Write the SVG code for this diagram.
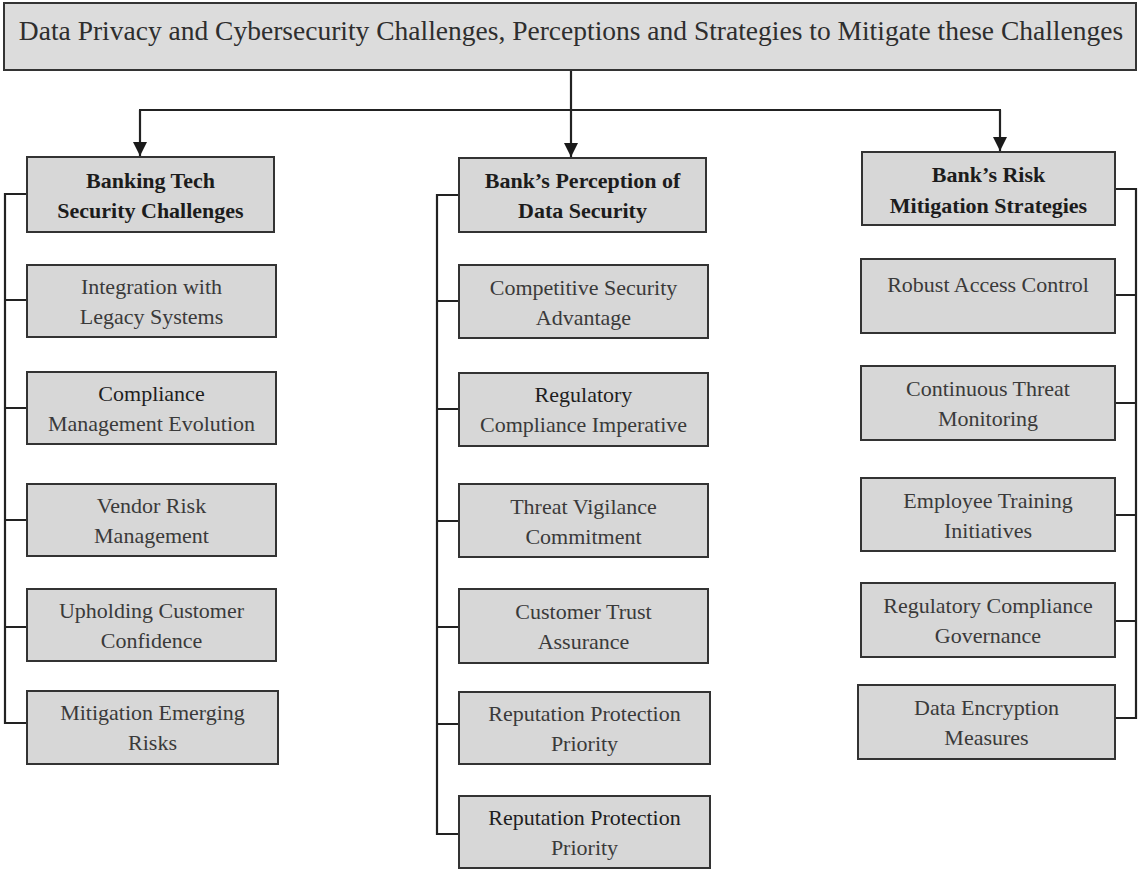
<svg xmlns="http://www.w3.org/2000/svg" width="1140" height="871" viewBox="0 0 1140 871">
  <style>
    .box { fill: #d7d7d7; stroke: #333333; stroke-width: 2; }
    .title-box { fill: #dcdcdc; stroke: #333333; stroke-width: 2; }
    .title { font-family: "Liberation Serif", "Times New Roman", serif; font-size: 27.5px; fill: #2e2e2e; text-anchor: middle; }
    .head { font-family: "Liberation Serif", "Times New Roman", serif; font-size: 22px; font-weight: bold; fill: #1c1c1c; text-anchor: middle; }
    .item { font-family: "Liberation Serif", "Times New Roman", serif; font-size: 22px; fill: #3a3a3a; text-anchor: middle; }
    .dark { fill: #1e1e1e; }
    .link { fill: none; stroke: #222222; stroke-width: 2.2; }
  </style>
  <defs>
    <marker id="tip" markerUnits="userSpaceOnUse" markerWidth="14" markerHeight="14" viewBox="0 0 14 14" refX="14" refY="7" orient="auto">
      <path d="M0,0 L14,7 L0,14 Z" fill="#1a1a1a"/>
    </marker>
  </defs>

  <rect width="1140" height="871" fill="#ffffff"/>

  <!-- connectors -->
  <g id="connectors">
    <line class="link" x1="571" y1="70" x2="571" y2="157" marker-end="url(#tip)"/>
    <line class="link" x1="139" y1="110" x2="1001" y2="110"/>
    <line class="link" x1="140" y1="110" x2="140" y2="156" marker-end="url(#tip)"/>
    <line class="link" x1="1000" y1="110" x2="1000" y2="151" marker-end="url(#tip)"/>
    <!-- left bracket, column 1 -->
    <path class="link" d="M27,194 H5 V723 H27 M5,300 H27 M5,408 H27 M5,520 H27 M5,627 H27"/>
    <!-- left bracket, column 2 -->
    <path class="link" d="M459,195 H437 V834 H459 M437,301 H459 M437,409 H459 M437,521 H459 M437,627 H459 M437,724 H459"/>
    <!-- right bracket, column 3 -->
    <path class="link" d="M1115,189 H1136 V718 H1115 M1115,295 H1136 M1115,403 H1136 M1115,515 H1136 M1115,621 H1136"/>
  </g>

  <!-- root -->
  <g id="root">
    <rect class="title-box" x="4" y="3" width="1132" height="67"/>
    <text class="title" x="571" y="40">Data Privacy and Cybersecurity Challenges, Perceptions and Strategies to Mitigate these Challenges</text>
  </g>

  <!-- column 1 -->
  <g id="banking-tech">
    <rect class="box" x="27" y="157" width="247" height="75"/>
    <text class="head" x="150.5" y="188">Banking Tech</text>
    <text class="head" x="150.5" y="218">Security Challenges</text>
  </g>
  <g id="legacy">
    <rect class="box" x="27" y="265" width="249" height="72"/>
    <text class="item" x="151.5" y="294">Integration with</text>
    <text class="item" x="151.5" y="324">Legacy Systems</text>
  </g>
  <g id="compliance-evolution">
    <rect class="box" x="27" y="372" width="249" height="72"/>
    <text class="item dark" x="151.5" y="401">Compliance</text>
    <text class="item" x="151.5" y="431">Management Evolution</text>
  </g>
  <g id="vendor-risk">
    <rect class="box" x="27" y="484" width="249" height="72"/>
    <text class="item" x="151.5" y="513">Vendor Risk</text>
    <text class="item" x="151.5" y="543">Management</text>
  </g>
  <g id="customer-confidence">
    <rect class="box" x="27" y="589" width="249" height="72"/>
    <text class="item" x="151.5" y="618">Upholding Customer</text>
    <text class="item" x="151.5" y="648">Confidence</text>
  </g>
  <g id="emerging-risks">
    <rect class="box" x="27" y="691" width="251" height="73"/>
    <text class="item" x="152.5" y="720">Mitigation Emerging</text>
    <text class="item" x="152.5" y="750">Risks</text>
  </g>

  <!-- column 2 -->
  <g id="perception">
    <rect class="box" x="459" y="158" width="247" height="74"/>
    <text class="head" x="582.5" y="188">Bank’s Perception of</text>
    <text class="head" x="582.5" y="218">Data Security</text>
  </g>
  <g id="competitive-advantage">
    <rect class="box" x="459" y="265" width="249" height="73"/>
    <text class="item" x="583.5" y="295">Competitive Security</text>
    <text class="item" x="583.5" y="325">Advantage</text>
  </g>
  <g id="compliance-imperative">
    <rect class="box" x="459" y="373" width="249" height="73"/>
    <text class="item dark" x="583.5" y="402">Regulatory</text>
    <text class="item" x="583.5" y="432">Compliance Imperative</text>
  </g>
  <g id="threat-vigilance">
    <rect class="box" x="459" y="484" width="249" height="73"/>
    <text class="item" x="583.5" y="514">Threat Vigilance</text>
    <text class="item" x="583.5" y="544">Commitment</text>
  </g>
  <g id="trust-assurance">
    <rect class="box" x="459" y="589" width="249" height="74"/>
    <text class="item" x="583.5" y="619">Customer Trust</text>
    <text class="item" x="583.5" y="649">Assurance</text>
  </g>
  <g id="reputation-1">
    <rect class="box" x="459" y="692" width="251" height="72"/>
    <text class="item" x="584.5" y="721">Reputation Protection</text>
    <text class="item" x="584.5" y="751">Priority</text>
  </g>
  <g id="reputation-2">
    <rect class="box" x="459" y="796" width="251" height="72"/>
    <text class="item dark" x="584.5" y="825">Reputation Protection</text>
    <text class="item" x="584.5" y="855">Priority</text>
  </g>

  <!-- column 3 -->
  <g id="mitigation">
    <rect class="box" x="862" y="152" width="253" height="73"/>
    <text class="head" x="988.5" y="182">Bank’s Risk</text>
    <text class="head" x="988.5" y="213">Mitigation Strategies</text>
  </g>
  <g id="access-control">
    <rect class="box" x="861" y="259" width="254" height="74"/>
    <text class="item" x="988" y="292">Robust Access Control</text>
  </g>
  <g id="threat-monitoring">
    <rect class="box" x="861" y="366" width="254" height="74"/>
    <text class="item" x="988" y="396">Continuous Threat</text>
    <text class="item" x="988" y="426">Monitoring</text>
  </g>
  <g id="employee-training">
    <rect class="box" x="861" y="478" width="254" height="73"/>
    <text class="item" x="988" y="508">Employee Training</text>
    <text class="item" x="988" y="538">Initiatives</text>
  </g>
  <g id="compliance-governance">
    <rect class="box" x="861" y="583" width="254" height="74"/>
    <text class="item" x="988" y="613">Regulatory Compliance</text>
    <text class="item" x="988" y="643">Governance</text>
  </g>
  <g id="encryption">
    <rect class="box" x="858" y="685" width="257" height="74"/>
    <text class="item" x="986.5" y="715">Data Encryption</text>
    <text class="item" x="986.5" y="745">Measures</text>
  </g>
</svg>
